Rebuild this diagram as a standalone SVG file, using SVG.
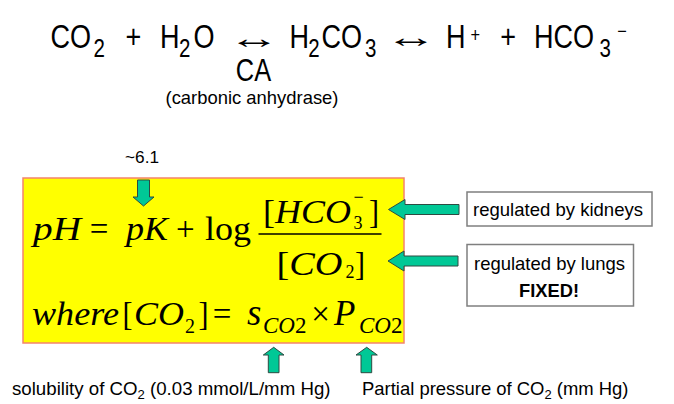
<svg xmlns="http://www.w3.org/2000/svg" width="674" height="404" viewBox="0 0 674 404">
<defs>
<style>
.sans{font-family:"Liberation Sans",Arial,sans-serif;fill:#000}
.serif{font-family:"Liberation Serif","Times New Roman",serif;fill:#000}
.it{font-style:italic}
.lbl{font-size:18.5px}
.m{font-size:33px}
.arr{fill:#00C896;stroke:#2E4A42;stroke-width:1;stroke-linejoin:miter}
.box{fill:#fff;stroke:#7F7F7F;stroke-width:1.5}
</style>
</defs>
<rect width="674" height="404" fill="#fff"/>

<g id="reaction">
<g transform="scale(0.82,1)">
<text class="sans" font-size="33" y="48"><tspan x="61.5">CO</tspan><tspan x="114" y="57.5" font-size="25">2</tspan><tspan x="153.2" y="48">+</tspan><tspan x="195">H</tspan><tspan x="218.2" y="57.5" font-size="25">2</tspan><tspan x="236" y="48">O</tspan></text>
<text class="sans" font-size="33" y="48"><tspan x="352.9">H</tspan><tspan x="376" y="57.5" font-size="25">2</tspan><tspan x="392" y="48">CO</tspan><tspan x="445" y="57.5" font-size="25">3</tspan></text>
<text class="sans" font-size="33" y="48"><tspan x="544">H</tspan><tspan x="573.8" y="42" font-size="20">+</tspan><tspan x="610.2" y="48">+</tspan><tspan x="651.1">HCO</tspan><tspan x="731" y="57.5" font-size="25">3</tspan><tspan x="752.7" y="38" font-size="20">−</tspan></text>
<text class="sans" font-size="31" x="309.1" y="80.7" text-anchor="middle">CA</text>
</g>
<text class="sans" font-size="30" text-anchor="middle" transform="translate(254,47.5) scale(1.75,1)">↔</text>
<text class="sans" font-size="30" text-anchor="middle" transform="translate(411,46.5) scale(1.75,1)">↔</text>
<text class="sans lbl" x="252" y="104" text-anchor="middle" textLength="173" lengthAdjust="spacingAndGlyphs">(carbonic anhydrase)</text>
</g>

<g id="henderson">
<rect x="23" y="178" width="381" height="165" fill="#FFFF00" stroke="#F4846C" stroke-width="1.5"/>
<text class="serif it m" x="33" y="240" textLength="48" lengthAdjust="spacingAndGlyphs">pH</text>
<text class="serif m" x="99" y="240" text-anchor="middle">=</text>
<text class="serif it m" x="126" y="240" textLength="42" lengthAdjust="spacingAndGlyphs">pK</text>
<text class="serif m" x="185.3" y="240" text-anchor="middle">+</text>
<text class="serif m" x="205" y="240" textLength="46" lengthAdjust="spacingAndGlyphs">log</text>
<line x1="258.5" y1="234" x2="381.5" y2="234" stroke="#000" stroke-width="1.6"/>
<text class="serif m" x="263" y="223" textLength="88" lengthAdjust="spacingAndGlyphs">[<tspan class="it">HCO</tspan></text>
<text class="serif" font-size="18" x="358" y="228.5" text-anchor="middle">3</text>
<text class="serif" font-size="18" x="358.5" y="203" text-anchor="middle">−</text>
<text class="serif m" x="369" y="223" textLength="10" lengthAdjust="spacingAndGlyphs">]</text>
<text class="serif m" x="276.5" y="275" textLength="66" lengthAdjust="spacingAndGlyphs">[<tspan class="it">CO</tspan></text>
<text class="serif" font-size="18" x="350" y="277.5" text-anchor="middle">2</text>
<text class="serif m" x="355" y="275" textLength="10" lengthAdjust="spacingAndGlyphs">]</text>
<text class="serif it m" x="32" y="325" textLength="87" lengthAdjust="spacingAndGlyphs">where</text>
<text class="serif m" x="122.5" y="325" textLength="10" lengthAdjust="spacingAndGlyphs">[</text>
<text class="serif it m" x="134" y="325" textLength="50" lengthAdjust="spacingAndGlyphs">CO</text>
<text class="serif" font-size="20" x="190" y="333" text-anchor="middle">2</text>
<text class="serif m" x="198.5" y="325" textLength="10" lengthAdjust="spacingAndGlyphs">]</text>
<text class="serif m" x="222" y="325" text-anchor="middle">=</text>
<text class="serif m" y="325"><tspan class="it" x="247" font-size="37">s</tspan><tspan x="263" y="333.3" font-size="23"><tspan class="it">CO</tspan>2</tspan></text>
<text class="serif m" x="320.5" y="325" text-anchor="middle">×</text>
<text class="serif m" y="325"><tspan class="it" x="334" font-size="35">P</tspan><tspan x="359" y="333.3" font-size="23"><tspan class="it">CO</tspan>2</tspan></text>
</g>

<g id="pk-label">
<text class="sans" font-size="16" x="125" y="163" textLength="34" lengthAdjust="spacingAndGlyphs">~6.1</text>
</g>

<g id="kidneys">
<rect class="box" x="467" y="192" width="185" height="34"/>
<text class="sans lbl" x="473" y="216" textLength="170" lengthAdjust="spacingAndGlyphs">regulated by kidneys</text>
</g>

<g id="lungs">
<rect class="box" x="467" y="244.5" width="166.5" height="61.5"/>
<text class="sans lbl" x="474" y="270" textLength="151" lengthAdjust="spacingAndGlyphs">regulated by lungs</text>
<text class="sans lbl" font-weight="bold" x="549" y="296.5" text-anchor="middle" textLength="60" lengthAdjust="spacingAndGlyphs">FIXED!</text>
</g>

<g id="solubility">
<text class="sans lbl" x="12" y="395" textLength="318.5" lengthAdjust="spacingAndGlyphs">solubility of CO<tspan font-size="13" dy="4">2</tspan><tspan dy="-4"> (0.03 mmol/L/mm Hg)</tspan></text>
</g>

<g id="partial-pressure">
<text class="sans lbl" x="362" y="395" textLength="266.5" lengthAdjust="spacingAndGlyphs">Partial pressure of CO<tspan font-size="13" dy="4">2</tspan><tspan dy="-4"> (mm Hg)</tspan></text>
</g>

<g id="connectors">
<polygon class="arr" points="137.5,180 149.5,180 149.5,197 154,197 143.5,206 133,197 137.5,197"/>
<polygon class="arr" points="388.5,209.5 405,199.5 405,204.5 459,204.5 459,214.5 405,214.5 405,219.5"/>
<polygon class="arr" points="388,261 404,251 404,256 458,256 458,266 404,266 404,271"/>
<polygon class="arr" points="273.7,347.3 284,355 279,355 279,372.7 268.3,372.7 268.3,355 263.3,355"/>
<polygon class="arr" points="366.7,347.3 377.3,355 371.7,355 371.7,372.7 361,372.7 361,355 356,355"/>
</g>
</svg>
